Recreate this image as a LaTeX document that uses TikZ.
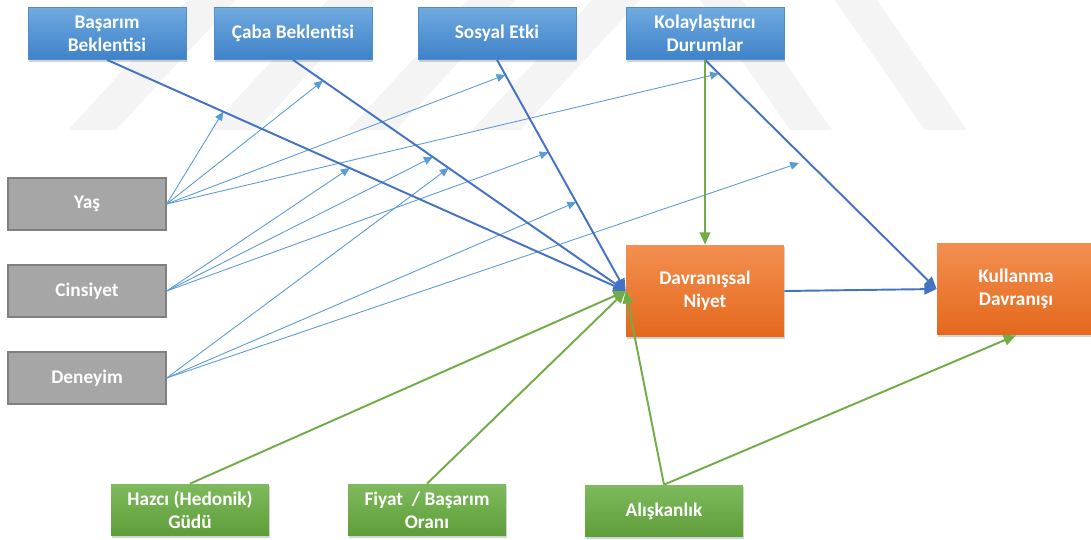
\documentclass[tikz,border=0pt]{standalone}
\usepackage{fontspec}
\setmainfont{Carlito}
\usetikzlibrary{arrows.meta,shadows}
\definecolor{mavi1}{RGB}{112,170,224}
\definecolor{mavi2}{RGB}{62,130,200}
\definecolor{mavi3}{RGB}{80,140,205}
\definecolor{gri1}{RGB}{166,166,166}
\definecolor{gri2}{RGB}{128,128,128}
\definecolor{turuncu1}{RGB}{243,143,80}
\definecolor{turuncu2}{RGB}{228,104,28}
\definecolor{yesil1}{RGB}{126,186,94}
\definecolor{yesil2}{RGB}{94,158,56}
\definecolor{koyumavi}{RGB}{68,114,196}
\definecolor{acikmavi}{RGB}{91,155,213}
\definecolor{yesilok}{RGB}{112,173,71}
\definecolor{filigran}{RGB}{244,244,244}
\tikzset{
  kutu/.style={minimum width=3.16cm,minimum height=1.04cm,align=center,
    text=white,font=\fontsize{11}{13}\selectfont\bfseries,inner sep=2pt},
  golge/.style={drop shadow={shadow xshift=0.7pt,shadow yshift=-1.2pt,opacity=0.35}},
  mavikutu/.style={kutu,golge,top color=mavi1,bottom color=mavi2,draw=mavi3,line width=0.4pt},
  grikutu/.style={kutu,fill=gri1,draw=gri2,line width=0.8pt},
  turuncukutu/.style={kutu,golge,minimum height=1.84cm,top color=turuncu1,bottom color=turuncu2},
  yesilkutu/.style={kutu,golge,top color=yesil1,bottom color=yesil2},
  anaok/.style={draw=koyumavi,line width=1.1pt,-{Triangle[length=7pt,width=6pt]}},
  ince/.style={draw=acikmavi,line width=0.5pt,-{Triangle[length=5pt,width=4.5pt]}},
  yesilcizgi/.style={draw=yesilok,line width=1.1pt,-{Triangle[length=7pt,width=6pt]}}
}
\begin{document}
\begin{tikzpicture}[x=0.02cm,y=-0.02cm]
            \useasboundingbox (0,0) rectangle (1091,540);
            \foreach \b in {68,208,348,472}
              \fill[filigran] (\b,130) -- (\b+48,130) -- (\b+168,0) -- (\b+120,0) -- cycle;
            \fill[filigran] (700,0) -- (742,0) -- (832,130) -- (790,130) -- cycle;
            \fill[filigran] (835,0) -- (877,0) -- (967,130) -- (925,130) -- cycle;
            \node[mavikutu] (bb) at (107,33.5) {Başarım\\Beklentisi};
            \node[mavikutu] (cb) at (293,33.5) {Çaba Beklentisi};
            \node[mavikutu] (se) at (497,33.5) {Sosyal Etki};
            \node[mavikutu] (kd) at (705,33.5) {Kolaylaştırıcı\\Durumlar};
            \node[grikutu] (yas) at (87,204) {Yaş};
            \node[grikutu] (cin) at (87,291) {Cinsiyet};
            \node[grikutu] (den) at (87,378) {Deneyim};
            \node[turuncukutu] (dn) at (705,291) {Davranışsal\\Niyet};
            \node[turuncukutu] (kul) at (1016,289) {Kullanma\\Davranışı};
            \node[yesilkutu] (haz) at (190,510) {Hazcı (Hedonik)\\Güdü};
            \node[yesilkutu] (fiy) at (427,510) {Fiyat~ / Başarım\\Oranı};
            \node[yesilkutu] (ali) at (664,511) {Alışkanlık};
            \path (bb.south) -- (dn.west) coordinate[pos=0.224] (bb1) coordinate[pos=0.468] (bb2);
            \path (cb.south) -- (dn.west) coordinate[pos=0.09] (cb1) coordinate[pos=0.42] (cb2)
              coordinate[pos=0.468] (cb3);
            \path (se.south) -- (dn.west) coordinate[pos=0.065] (se1) coordinate[pos=0.40] (se2)
              coordinate[pos=0.615] (se3);
            \path (kd.south) -- (kul.west) coordinate[pos=0.06] (kd1);
            \coordinate (kd2) at (799,163);
            \draw[ince] (yas.east) -- (bb1);
            \draw[ince] (yas.east) -- (cb1);
            \draw[ince] (yas.east) -- (se1);
            \draw[ince] (yas.east) -- (kd1);
            \draw[ince] (cin.east) -- (bb2);
            \draw[ince] (cin.east) -- (cb2);
            \draw[ince] (cin.east) -- (se2);
            \draw[ince] (den.east) -- (cb3);
            \draw[ince] (den.east) -- (se3);
            \draw[ince] (den.east) -- (kd2);
            \draw[anaok] (bb.south) -- (dn.west);
            \draw[anaok] (cb.south) -- (dn.west);
            \draw[anaok] (se.south) -- (dn.west);
            \draw[anaok] (kd.south) -- (kul.west);
            \draw[anaok] (dn.east) -- (kul.west);
            \draw[yesilcizgi] (kd.south) -- (dn.north);
            \draw[yesilcizgi] (haz.north) -- (dn.west);
            \draw[yesilcizgi] (fiy.north) -- (dn.west);
            \draw[yesilcizgi] (ali.north) -- (dn.west);
            \draw[yesilcizgi] (ali.north) -- (kul.south);
        \end{tikzpicture}
\end{document}
